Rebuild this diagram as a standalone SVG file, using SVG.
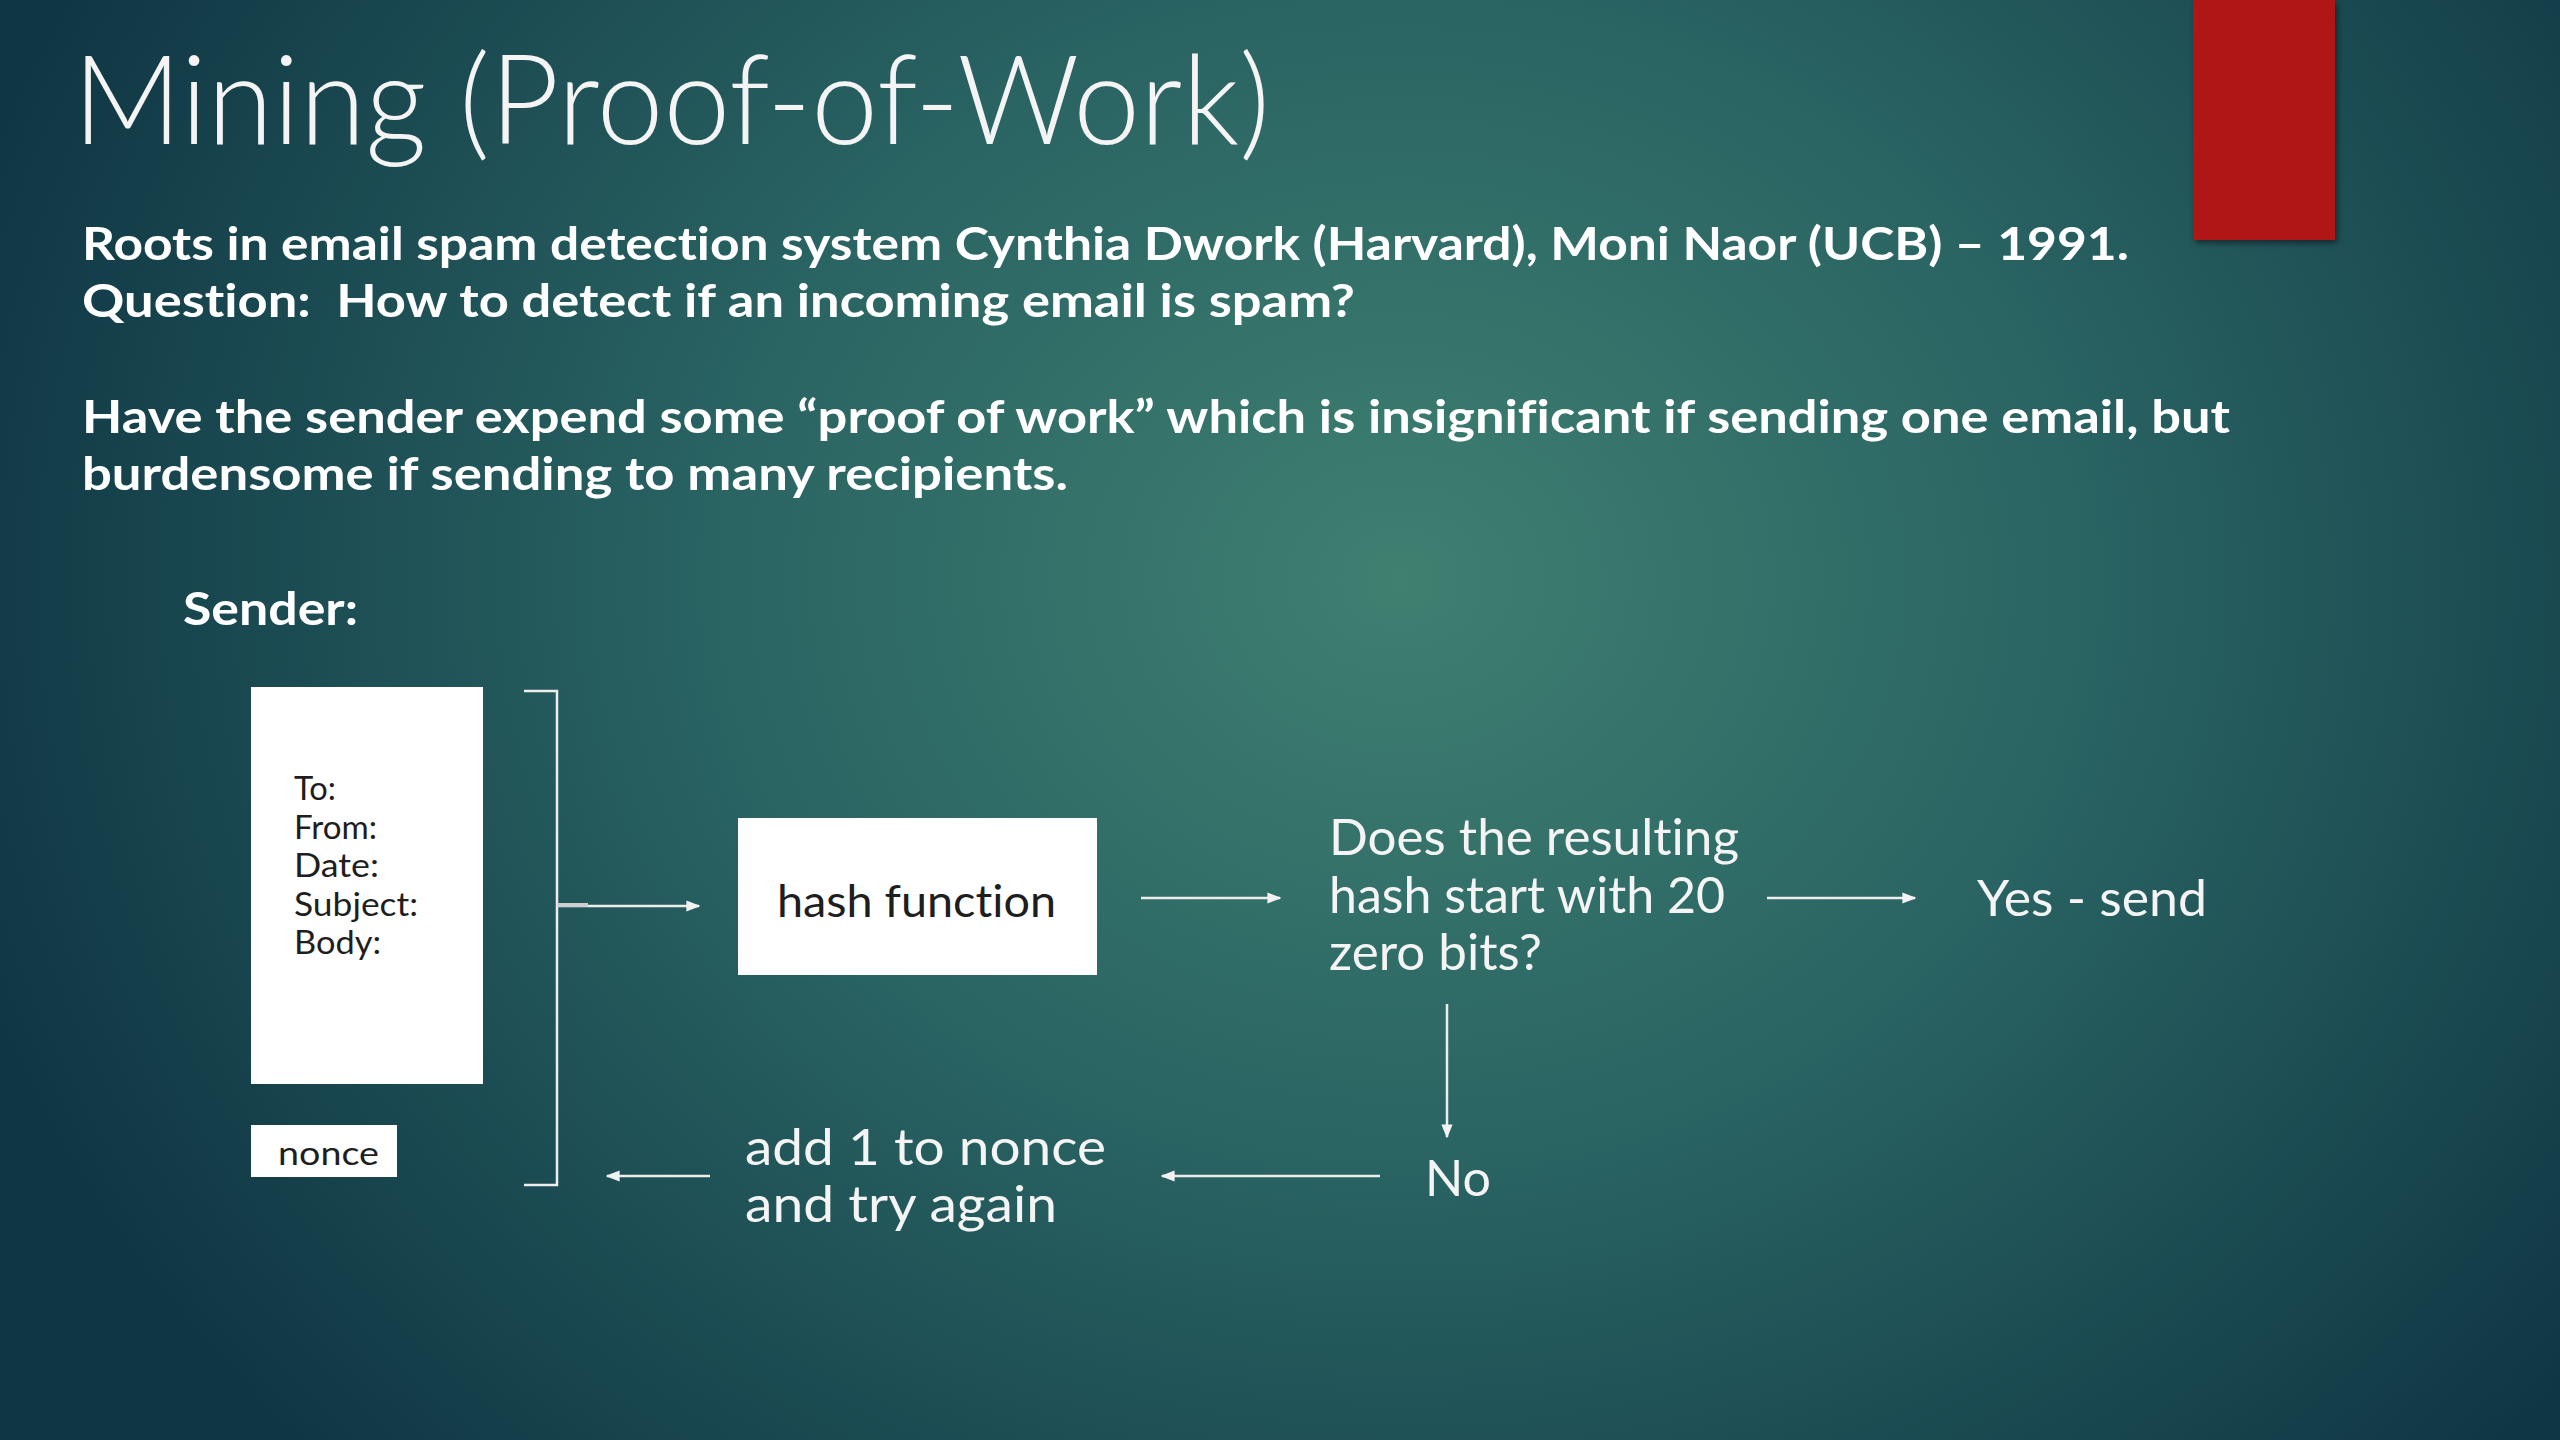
<svg xmlns="http://www.w3.org/2000/svg" width="2560" height="1440" viewBox="0 0 2560 1440">
<defs>
<radialGradient id="bg" gradientUnits="userSpaceOnUse" cx="1400" cy="580" r="1500" gradientTransform="translate(1400 580) scale(1 0.85) translate(-1400 -580)">
<stop offset="0" stop-color="#3F8071"/>
<stop offset="0.45" stop-color="#2A6463"/>
<stop offset="1" stop-color="#0F3644"/>
</radialGradient>
<filter id="shadow" x="-20%" y="-20%" width="140%" height="140%">
<feDropShadow dx="2" dy="3" stdDeviation="3" flood-color="#000" flood-opacity="0.5"/>
</filter>
<marker id="ahs" viewBox="0 0 10 10" refX="9" refY="5" markerWidth="14" markerHeight="14" orient="auto" markerUnits="userSpaceOnUse">
<path d="M0,1 L10,5 L0,9 z" fill="#F2F2F2"/>
</marker>
</defs>
<style>
text{font-variant-ligatures:none}
.title{font-family:Lato,"Open Sans","Liberation Sans",sans-serif;font-weight:300;font-size:124px;fill:#F4F4F4}
.bold{font-family:Lato,"Liberation Sans",sans-serif;font-weight:bold;font-size:46px;fill:#FFFFFF}
.lbl{font-family:Lato,"Open Sans","Liberation Sans",sans-serif;font-weight:400;font-size:50px;fill:#F4F4F4}
.dark{font-family:Lato,"Liberation Sans",sans-serif;fill:#1E1E1E}
.box{fill:#FFFFFF}
.conn{stroke:#EDEDED;stroke-width:2.5;fill:none}
</style>
<rect x="0" y="0" width="2560" height="1440" fill="url(#bg)"/>
<rect x="2193" y="0" width="142" height="240" fill="#B01712" filter="url(#shadow)"/>
<text class="title" x="73" y="144" textLength="1197" lengthAdjust="spacingAndGlyphs">Mining (Proof-of-Work)</text>
<text class="bold" x="82" y="260" textLength="2047" lengthAdjust="spacingAndGlyphs">Roots in email spam detection system Cynthia Dwork (Harvard), Moni Naor (UCB) – 1991.</text>
<text class="bold" x="82" y="317" textLength="1273" lengthAdjust="spacingAndGlyphs" xml:space="preserve" style="white-space:pre">Question:  How to detect if an incoming email is spam?</text>
<text class="bold" x="82" y="433" textLength="2148" lengthAdjust="spacingAndGlyphs">Have the sender expend some “proof of work” which is insignificant if sending one email, but</text>
<text class="bold" x="82" y="490" textLength="986" lengthAdjust="spacingAndGlyphs">burdensome if sending to many recipients.</text>
<text class="bold" x="183" y="625" textLength="175" lengthAdjust="spacingAndGlyphs">Sender:</text>
<g id="email">
<rect class="box" x="251" y="687" width="232" height="397"/>
<g class="dark" font-size="32">
<text x="294" y="800" textLength="42" lengthAdjust="spacingAndGlyphs">To:</text>
<text x="294" y="839" textLength="83" lengthAdjust="spacingAndGlyphs">From:</text>
<text x="294" y="877" textLength="85" lengthAdjust="spacingAndGlyphs">Date:</text>
<text x="294" y="916" textLength="124" lengthAdjust="spacingAndGlyphs">Subject:</text>
<text x="294" y="954" textLength="87" lengthAdjust="spacingAndGlyphs">Body:</text>
</g>
</g>
<g id="nonce">
<rect class="box" x="251" y="1125" width="146" height="52"/>
<text class="dark" x="278" y="1165" font-size="33" textLength="101" lengthAdjust="spacingAndGlyphs">nonce</text>
</g>
<g id="bracket">
<path class="conn" d="M524,691 H557 V1185 H524"/>
</g>
<g id="hash">
<rect class="box" x="738" y="818" width="359" height="157"/>
<text class="dark" x="777" y="917" font-size="44" textLength="279" lengthAdjust="spacingAndGlyphs">hash function</text>
</g>
<g id="question">
<text class="lbl" x="1329" y="855" textLength="410" lengthAdjust="spacingAndGlyphs">Does the resulting</text>
<text class="lbl" x="1329" y="913" textLength="396" lengthAdjust="spacingAndGlyphs">hash start with 20</text>
<text class="lbl" x="1329" y="970" textLength="213" lengthAdjust="spacingAndGlyphs">zero bits?</text>
</g>
<g id="yes">
<text class="lbl" x="1977" y="916" textLength="230" lengthAdjust="spacingAndGlyphs">Yes - send</text>
</g>
<g id="no">
<text class="lbl" x="1425" y="1196" textLength="66" lengthAdjust="spacingAndGlyphs">No</text>
</g>
<g id="retry">
<text class="lbl" x="745" y="1165" textLength="361" lengthAdjust="spacingAndGlyphs">add 1 to nonce</text>
<text class="lbl" x="745" y="1222" textLength="312" lengthAdjust="spacingAndGlyphs">and try again</text>
</g>
<g id="connectors">
<line class="conn" x1="557" y1="906" x2="699" y2="906" marker-end="url(#ahs)"/>
<line x1="557" y1="905" x2="588" y2="905" stroke="#CFCFCF" stroke-width="4"/>
<line class="conn" x1="1141" y1="898" x2="1280" y2="898" marker-end="url(#ahs)"/>
<line class="conn" x1="1767" y1="898" x2="1915" y2="898" marker-end="url(#ahs)"/>
<line class="conn" x1="1447" y1="1004" x2="1447" y2="1137" marker-end="url(#ahs)"/>
<line class="conn" x1="1380" y1="1176" x2="1162" y2="1176" marker-end="url(#ahs)"/>
<line class="conn" x1="710" y1="1176" x2="607" y2="1176" marker-end="url(#ahs)"/>
</g>
</svg>
